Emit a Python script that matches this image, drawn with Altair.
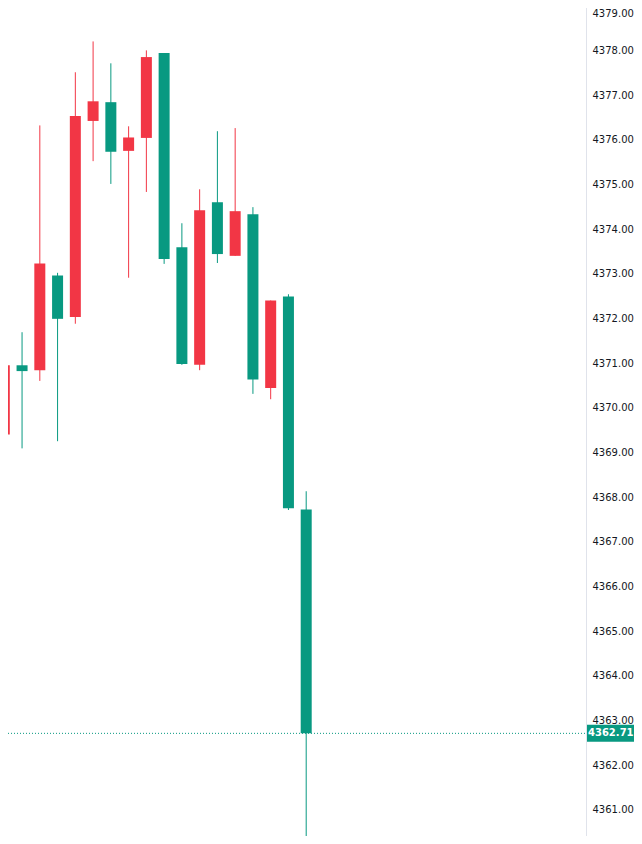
import altair as alt
import pandas as pd

# Candle data
bar_index = list(range(18))
open_ = [4369.40, 4370.95, 4370.84, 4372.96, 4372.03, 4376.42, 4376.84, 4375.75, 4376.04,
         4377.94, 4373.59, 4370.96, 4374.60, 4373.40, 4374.33, 4370.44, 4372.49, 4367.72]
high = [4371.96, 4371.69, 4376.32, 4373.02, 4377.51, 4378.20, 4377.71, 4376.30, 4378.00,
        4377.94, 4374.13, 4374.89, 4376.19, 4376.26, 4374.49, 4372.40, 4372.54, 4368.13]
low = [4368.78, 4369.09, 4370.60, 4369.25, 4371.88, 4375.52, 4375.01, 4372.91, 4374.83,
       4373.22, 4370.96, 4370.84, 4373.24, 4373.40, 4370.31, 4370.19, 4367.71, 4359.80]
close = [4370.95, 4370.82, 4373.23, 4371.99, 4376.53, 4376.86, 4375.73, 4376.05, 4377.85,
         4373.33, 4370.98, 4374.42, 4373.44, 4374.40, 4370.63, 4372.40, 4367.75, 4362.71]

last_price = [4362.71]
tick_values = [4361, 4362, 4363, 4364, 4365, 4366, 4367, 4368, 4369, 4370,
               4371, 4372, 4373, 4374, 4375, 4376, 4377, 4378, 4379]

UP = "#F23645"
DOWN = "#089981"

df = pd.DataFrame({"i": bar_index, "open": open_, "high": high, "low": low, "close": close})
last_df = pd.DataFrame({"price": last_price, "label": [f"{p:.2f}" for p in last_price]})

W, H = 578, 828
xs = alt.Scale(domain=[0, 17], range=[-3.7, 298.2], padding=0, nice=False, zero=False)
ys = alt.Scale(domain=[4360, 4379], range=[846.4, -2.3], zero=False, nice=False, padding=0)
yax = alt.Axis(orient="right", values=tick_values, format=".2f", title=None,
               domain=False, ticks=False, tickSize=0, grid=False, labelPadding=6,
               labelFont="DejaVu Sans", labelFontSize=10, labelColor="#131722",
               labelBaseline="middle", labelFlush=False, labelOverlap=False, zindex=0,
               labelOffset={"condition": {"test": "datum.value >= 4379", "value": 8},
                            "value": 0})

color = alt.condition("datum.close > datum.open", alt.value(UP), alt.value(DOWN))

wicks = alt.Chart(df).mark_rule(strokeWidth=1, clip=True).encode(
    x=alt.X("i:Q", scale=xs, axis=None),
    y=alt.Y("low:Q", scale=ys, axis=yax),
    y2="high:Q",
    color=color,
)

bodies = alt.Chart(df).mark_bar(size=11, clip=True).encode(
    x=alt.X("i:Q", scale=xs, axis=None),
    y=alt.Y("open:Q", scale=ys, axis=yax),
    y2="close:Q",
    color=color,
)

price_line = alt.Chart(last_df).mark_rule(
    color=DOWN, strokeWidth=1, strokeDash=[1, 2], clip=True
).encode(
    y=alt.Y("price:Q", scale=ys, axis=yax),
    x=alt.value(0),
    x2=alt.value(W),
)

separator = alt.Chart(last_df).mark_rule(color="#E0E3EB", strokeWidth=1).encode(
    x=alt.value(W + 0.5),
    y=alt.value(0),
    y2=alt.value(H),
)

tag = alt.Chart(last_df).mark_tick(color=DOWN, size=47, thickness=17, opacity=1).encode(
    y=alt.Y("price:Q", scale=ys, axis=yax),
    x=alt.value(W + 24.5),
)

tag_text = alt.Chart(last_df).mark_text(
    align="left", baseline="middle", color="white", font="DejaVu Sans",
    fontSize=10, fontWeight="bold"
).encode(
    y=alt.Y("price:Q", scale=ys, axis=yax),
    x=alt.value(W + 2),
    text="label:N",
)

chart = alt.layer(wicks, bodies, price_line, separator, tag, tag_text).properties(
    width=W, height=H,
    autosize=alt.AutoSizeParams(type="none"),
    padding={"left": 0, "top": 0, "right": 48, "bottom": 0},
    background="white",
).configure_view(stroke=None)

chart.save("out.html", embed_options={"renderer": "svg", "actions": False})
